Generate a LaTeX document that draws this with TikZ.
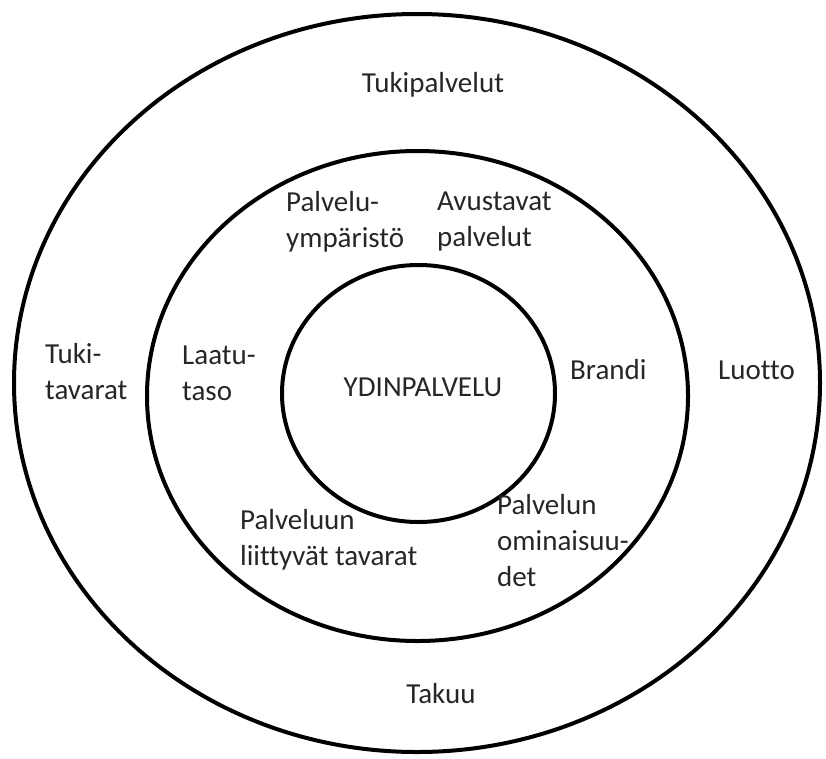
\documentclass[tikz,border=0pt]{standalone}
\usepackage{fontspec}
\setmainfont[Ligatures=NoCommon]{Carlito}
\usetikzlibrary{shapes.geometric}
\begin{document}
\begin{tikzpicture}[x=1pt,y=-1pt,
  ring/.style={draw=black, line width=4pt, ellipse, inner sep=0pt, outer sep=0pt},
  lbl/.style={font=\fontsize{29}{36}\selectfont, inner sep=0pt, align=left, text=black!85},
  lblw/.style={lbl, anchor=west}]
\useasboundingbox (0,0) rectangle (826,758);
\node[ring, minimum width=806pt, minimum height=738pt] (outer) at (417,383) {};
\node[ring, minimum width=541pt, minimum height=490pt] (middle) at (417.5,396) {};
\node[ring, minimum width=273pt, minimum height=257pt] (inner) at (418.5,393.5) {};
\node[lbl] (tukipalvelut) at (433,85) {Tukipalvelut};
\node[lblw] (ymparisto) at (286,222) {Palvelu-\\ympäristö};
\node[lblw] (avustavat) at (437,222) {Avustavat\\palvelut};
\node[lblw] (laatu) at (182,373) {Laatu-\\taso};
\node[lbl] (ydin) at (423,387) {YDINPALVELU};
\node[lblw] (brandi) at (570,370) {Brandi};
\node[lblw] (tukitavarat) at (45,372) {Tuki-\\tavarat};
\node[lblw] (luotto) at (718,370) {Luotto};
\node[lblw] (liittyvat) at (240,540) {Palveluun\\liittyvät tavarat};
\node[lblw] (ominaisuudet) at (497,541) {Palvelun\\ominaisuu-\\det};
\node[lbl] (takuu) at (441,694) {Takuu};
\end{tikzpicture}
\end{document}
